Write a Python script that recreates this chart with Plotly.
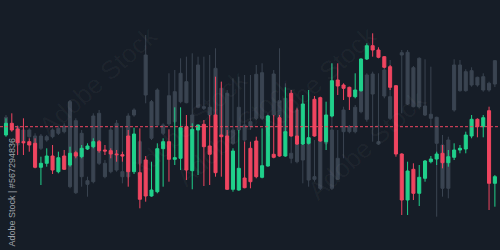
import plotly.graph_objects as go

# ---- data (price units) ----
idx = list(range(85))

fg_open = [115,126.7,121,108.3,108.3,106.7,82.7,86.7,94,78.3,94,85,97.3,93.3,101,103.3,108.3,100,99.3,96,
           95.3,114,78.3,77.3,90,54,58.3,101.3,108.3,90.7,91.7,123.3,79.3,120,125.7,104,135,115,114,60.7,
           60,72,101.7,109,72.7,84,95.7,132.3,94,156.7,114,106,106.7,150.7,152.3,108.3,134,170,165,162.7,
           153.3,159.3,191,204.3,200,193.3,183.3,164.3,96,50,80.7,56.7,71.7,88.3,91,96.7,87.3,92.7,100,101,
           114,130.7,123.3,139.3,66.7]
fg_high = [131.7,136.7,123.3,131.7,111.7,111.7,93.3,101.7,105,98.3,100,103.3,99.3,105,106.7,111.7,110,105,101.7,100,
           98.3,120,122.3,121.7,94,88.3,106.7,111.7,120.7,142.7,142.7,135,126.7,125.5,130,135,173.3,168.3,120,101.7,
           120,108.3,108.3,113.3,121.7,135,135,135,162.7,160,141.7,155,160,154,153.3,148.3,186.7,186.7,166.7,163.3,
           176.7,191.7,206.7,216.7,202.7,194,185,165,96.7,88.3,86.7,85,90,94,98.3,105,100,106.7,105,118.3,
           135,131.7,135,143.3,75]
fg_low = [113.3,118.3,95,95,98.3,81.7,65,83.3,76,76.7,80,83.3,91.7,91.7,100,101.7,97.3,95,91.7,88.3,
          88.3,63.3,76,41.7,48.3,53.3,56.7,63.3,68.3,85,80,70,60.7,75,64,65,73.3,73.3,60,58.3,
          59.3,61.7,61.7,71.7,71.7,83.3,91.7,93.3,93.3,113.3,105,105,105.5,113.3,108.3,100,132.7,155,150,140,
          151.7,158.3,190,193.3,191.7,181.7,160,93.3,35,35,50,44,68.3,86.7,85,81.7,83.3,90,96.7,96.7,
          111.7,112.7,112.7,40,43.3]
fg_close = [126.7,120,107.3,107.3,105,82.7,86.7,94,80,92.3,80.7,96.7,94,101.7,104,108.3,99.3,99,96,95.3,
            94,78.3,116,50.7,54,60,101.3,108.3,90.7,92.3,122.3,80,120.7,125,103.3,95.7,77.3,113.3,60.7,99,
            81.7,62.3,68.3,73.3,84.3,134,92.7,94,118.3,114,106,146,112.3,114,109,135,169.3,164,161.7,153.3,
            160,191,204.3,200,192.7,182.7,162.7,96,50,79,56.7,72.7,89,91,96,87.3,93.3,100,101.7,115,
            130.7,123.3,132.3,66.7,73.3]

bg_open = [132.7,None,123.3,120,120,114,114,113.3,120,121.7,124,148.3,129.3,116.7,69.3,134,136.7,86.7,120,126.7,
           78.3,134,140,108.3,195,148.3,160,125,154.3,158.3,176.7,168.3,135,185,143.3,142.7,181.7,161.7,156.7,120,
           142.7,125,128.3,175.7,177.3,134,176,149.3,151.7,96.7,140,105,106.7,73.3,121.7,120,120,91.7,140,123.3,
           142.7,176,175,176,108.3,180,153.3,160,197.3,197.7,182.3,191.7,144,135.7,132.7,105,110,185,185,178.3,
           179.3,172.7,173.3,166.7,189.3]
bg_high = [135,None,125,123.3,121.7,116.7,116,115,121.7,124,126.7,150,131.7,120,73.3,136.7,140,90,123.3,130,
           123.3,136.7,141.7,110,215,150,161.7,126.7,176.7,180,191.7,193.3,196.7,193.3,193.3,195,201.7,168.3,160,171.7,
           173.3,175,175,185,186.7,136.7,180,201.7,166.7,160,143.3,106.7,158.3,110,123.3,123.3,186.7,120,143.3,125,
           145,178.3,176.7,178.3,176.7,191.7,190,161.7,200,200,184,192.7,190.7,183.3,133.3,115,113.3,190.7,190,180.7,
           182.7,173.3,176.7,168.3,190]
bg_low = [120,None,96.7,106.7,111.7,100,100,108.3,111.7,115,116.7,61.7,56,63.3,53.3,66.7,85,71.7,76.7,78.3,
          66.7,71.7,133.3,85,146.7,110,123.3,115,124,126.7,146.7,146.7,120,141.7,140,133.3,133.3,113.3,113.3,105,
          116.7,106.7,120,130,130,121.7,133.3,131.7,115,86.7,86.7,66.7,63.3,68.3,60,105,60,70,91.7,116.7,
          116.7,136.7,128.3,108.3,105,151.7,130,135,136.7,145,142.7,141.7,134,123.3,33.3,53.3,51.7,138.3,158.3,158.3,
          163.3,163.3,158.3,158.3,163]
bg_close = [123.3,None,105,108.3,113.3,101.7,101.7,110,113.3,116.7,118.3,63.3,57.3,73.3,65.7,68.3,86.7,73.3,78.3,80,
            73.3,73.3,135,86.7,155,111.7,125,116.7,126,128.3,148.3,147.3,123.3,142.7,141.7,135,135,115,114,106.7,
            120,110,123.3,131.7,131.7,123.3,135,132.7,116.7,91.7,88.3,90,70,70.7,61.7,106.7,61.7,70.7,118.3,118.3,
            118.3,138.3,130.7,156,106,154,131.7,136.7,195,146,143.3,143.3,135,131.7,106.7,61.7,61.7,140,159.3,159.3,
            165,165,160,160,166]

ref_level = 123.3

# ---- styles ----
BG = "#161d27"
GREY = "#3a4451"
GREEN = "#20d08b"
RED = "#ef4560"

fig = go.Figure()

fig.add_trace(go.Candlestick(
    x=idx, open=bg_open, high=bg_high, low=bg_low, close=bg_close,
    increasing=dict(line=dict(color=GREY, width=1), fillcolor=GREY),
    decreasing=dict(line=dict(color=GREY, width=1), fillcolor=GREY),
    whiskerwidth=0, hoverinfo="skip", showlegend=False,
))

fig.add_shape(type="line", xref="paper", x0=0, x1=1, yref="y", y0=ref_level, y1=ref_level,
              line=dict(color=RED, width=1, dash="3px,2px"), layer="above")

fig.add_trace(go.Candlestick(
    x=idx, open=fg_open, high=fg_high, low=fg_low, close=fg_close,
    increasing=dict(line=dict(color=GREEN, width=1), fillcolor=GREEN),
    decreasing=dict(line=dict(color=RED, width=1), fillcolor=RED),
    whiskerwidth=0, hoverinfo="skip", showlegend=False,
))

# faint watermarks
wm = [(0.06, 0.93), (0.24, 0.50), (0.47, 0.22), (0.77, 0.93), (0.87, 0.42)]
for (px, py) in wm:
    fig.add_annotation(x=px, y=py, xref="paper", yref="paper", text="Adobe Stock",
                       showarrow=False, textangle=-42,
                       font=dict(family="Liberation Sans, Arial", size=26, color="rgba(255,255,255,0.04)"))

fig.add_annotation(x=0.022, y=0.006, xref="paper", yref="paper", text="Adobe Stock | #567294836",
                   showarrow=False, textangle=-90, xanchor="center", yanchor="bottom",
                   font=dict(family="Liberation Sans, Arial", size=9, color="rgba(205,210,215,0.75)"))

fig.update_layout(
    width=500, height=250, margin=dict(l=0, r=0, t=0, b=0),
    paper_bgcolor=BG, plot_bgcolor=BG, boxgap=0.25,
    xaxis=dict(range=[-1.03, 84.88], visible=False, rangeslider=dict(visible=False), fixedrange=True),
    yaxis=dict(range=[0, 250], visible=False, fixedrange=True),
)

fig.write_html("out.html", config={"displayModeBar": False})
